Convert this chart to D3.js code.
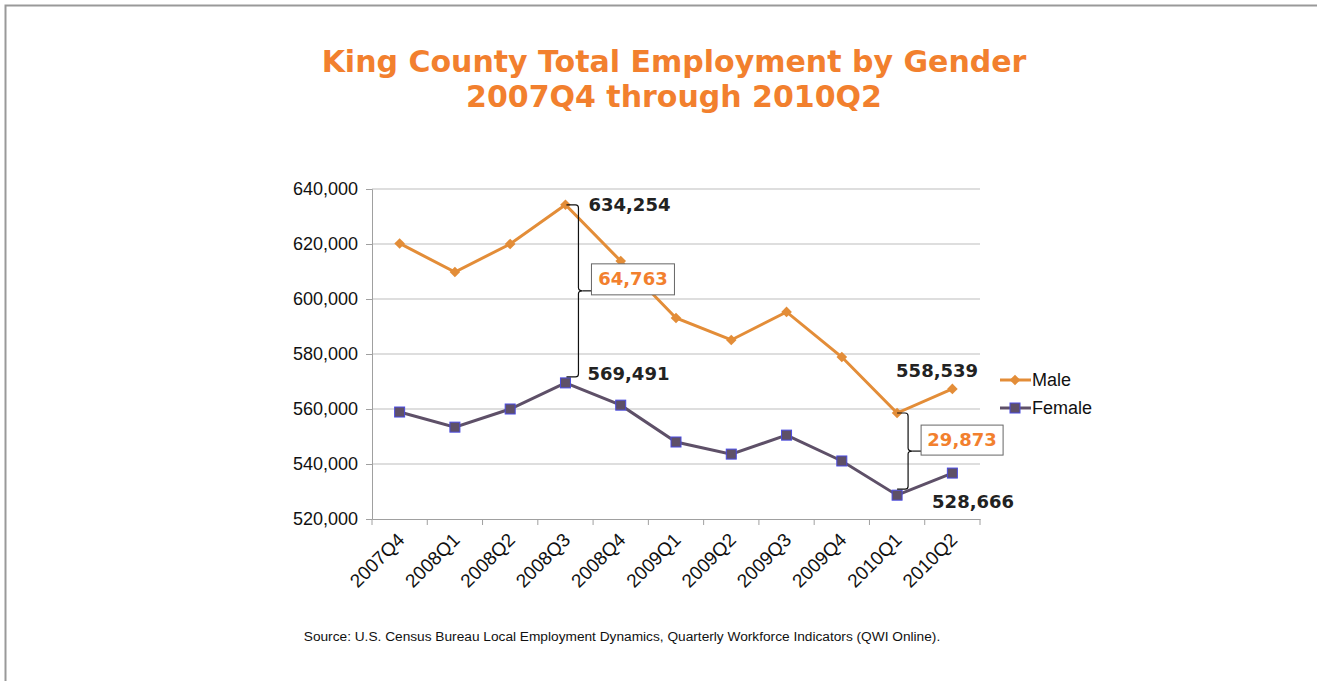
<!DOCTYPE html>
<html>
<head>
<meta charset="utf-8">
<script src="https://cdn.jsdelivr.net/npm/d3@7"></script>
<style>
  body { margin: 0; background: #fff; }
  svg { display: block; }
</style>
</head>
<body>
<div class="chart"></div>
<script>
const quarters = ['2007Q4', '2008Q1', '2008Q2', '2008Q3', '2008Q4', '2009Q1', '2009Q2', '2009Q3', '2009Q4', '2010Q1', '2010Q2'];
const male = [620200, 609800, 620000, 634254, 613800, 593100, 585100, 595300, 578900, 558539, 567300];
const female = [558900, 553400, 560000, 569491, 561400, 548000, 543600, 550500, 541100, 528666, 536700];
const yTicks = [520000, 540000, 560000, 580000, 600000, 620000, 640000];

const W = 1318, H = 681;
const margin = {top: 189, left: 372, right: 338, bottom: 162};
const width = W - margin.left - margin.right;
const height = H - margin.top - margin.bottom;

const maleColor = '#E38D38';
const femaleColor = '#5E5068';
const orange = '#F2802E';

const svg = d3.select('.chart').append('svg')
    .attr('width', W)
    .attr('height', H);

// frame
svg.append('path')
    .attr('d', 'M5.5,' + H + 'V5.5H1317')
    .attr('fill', 'none')
    .attr('stroke', '#999')
    .attr('stroke-width', 2);

// title
const title = svg.append('text')
    .attr('text-anchor', 'middle')
    .attr('font-family', 'DejaVu Sans, Verdana, sans-serif')
    .attr('font-weight', 'bold')
    .attr('font-size', 30)
    .attr('fill', orange);
title.append('tspan').attr('x', 674).attr('y', 72).text('King County Total Employment by Gender');
title.append('tspan').attr('x', 674).attr('y', 107).text('2007Q4 through 2010Q2');

const g = svg.append('g')
    .attr('transform', 'translate(' + margin.left + ',' + margin.top + ')');

const x = d3.scaleBand().domain(quarters).range([0, width]);
const y = d3.scaleLinear().domain([520000, 640000]).range([height, 0]);
const cx = d => x(d) + x.bandwidth() / 2;

// gridlines
g.append('g').selectAll('line')
    .data(yTicks.slice(1))
    .join('line')
    .attr('x1', 0).attr('x2', width)
    .attr('y1', d => y(d)).attr('y2', d => y(d))
    .attr('stroke', '#BDBDBD');

// y axis
const yAxis = g.append('g')
    .call(d3.axisLeft(y).tickValues(yTicks).tickSize(6).tickPadding(8).tickFormat(d3.format(',')));
yAxis.select('.domain').attr('stroke', '#A0A0A0');
yAxis.selectAll('.tick line').attr('stroke', '#A0A0A0');
yAxis.selectAll('text')
    .attr('font-family', 'Liberation Sans, Arial, sans-serif')
    .attr('font-size', 18)
    .attr('fill', '#111');

// x axis
const xAxis = g.append('g')
    .attr('transform', 'translate(0,' + height + ')')
    .call(d3.axisBottom(x).tickSize(0).tickPadding(0));
xAxis.select('.domain').attr('stroke', '#A0A0A0');
xAxis.selectAll('.tick line').remove();
xAxis.append('g').selectAll('line')
    .data(quarters.concat(['end']))
    .join('line')
    .attr('x1', (d, i) => i * x.step()).attr('x2', (d, i) => i * x.step())
    .attr('y1', 0).attr('y2', 6)
    .attr('stroke', '#A0A0A0');
xAxis.selectAll('.tick text')
    .attr('font-family', 'Liberation Sans, Arial, sans-serif')
    .attr('font-size', 19)
    .attr('fill', '#111')
    .attr('text-anchor', 'end')
    .attr('dy', null)
    .attr('transform', 'translate(6,22) rotate(-45)');

// lines
const line = d3.line()
    .x((d, i) => cx(quarters[i]))
    .y(d => y(d));

g.append('path').datum(male)
    .attr('d', line)
    .attr('fill', 'none')
    .attr('stroke', maleColor)
    .attr('stroke-width', 3);
g.append('path').datum(female)
    .attr('d', line)
    .attr('fill', 'none')
    .attr('stroke', femaleColor)
    .attr('stroke-width', 3);

// markers
const diamond = d3.symbol().type(d3.symbolDiamond2).size(72);
g.append('g').selectAll('path')
    .data(male)
    .join('path')
    .attr('d', diamond)
    .attr('transform', (d, i) => 'translate(' + cx(quarters[i]) + ',' + y(d) + ')')
    .attr('fill', maleColor);
g.append('g').selectAll('rect')
    .data(female)
    .join('rect')
    .attr('x', (d, i) => cx(quarters[i]) - 5)
    .attr('y', d => y(d) - 5)
    .attr('width', 10).attr('height', 10)
    .attr('fill', femaleColor)
    .attr('stroke', '#4A4AE0')
    .attr('stroke-width', 1);

// value labels
const labelFont = 'DejaVu Sans, Verdana, sans-serif';
const valueLabel = (txt, lx, ly, color) => g.append('text')
    .attr('x', lx).attr('y', ly)
    .attr('font-family', labelFont)
    .attr('font-weight', 'bold')
    .attr('font-size', 18)
    .attr('fill', color || '#222')
    .text(txt);

const fmt = d3.format(',');

// bracket between two values
function bracket(i, hookLeft, bx, boxW, boxH, label) {
    const xb = cx(quarters[i]) + bx;
    const y1 = y(male[i]), y2 = y(female[i]) - 6;
    const ym = (y1 + y2) / 2;
    const x0 = cx(quarters[i]) + hookLeft;
    g.append('path')
        .attr('d', 'M' + x0 + ',' + y1 + 'H' + (xb - 3) + 'Q' + xb + ',' + y1 + ' ' + xb + ',' + (y1 + 3) +
            'V' + (ym - 3) + 'Q' + xb + ',' + ym + ' ' + (xb + 4) + ',' + ym +
            'Q' + xb + ',' + ym + ' ' + xb + ',' + (ym + 3) +
            'V' + (y2 - 3) + 'Q' + xb + ',' + y2 + ' ' + (xb - 3) + ',' + y2 + 'H' + x0)
        .attr('fill', 'none')
        .attr('stroke', '#111')
        .attr('stroke-width', 1.2);
    const bx0 = xb + 13;
    g.append('line')
        .attr('x1', xb + 4).attr('x2', bx0)
        .attr('y1', ym).attr('y2', ym)
        .attr('stroke', '#111').attr('stroke-width', 1.2);
    g.append('rect')
        .attr('x', bx0).attr('y', ym - boxH + 4)
        .attr('width', boxW).attr('height', boxH)
        .attr('fill', '#fff')
        .attr('stroke', '#666');
    g.append('text')
        .attr('x', bx0 + boxW / 2).attr('y', ym - boxH / 2 + 10)
        .attr('text-anchor', 'middle')
        .attr('font-family', labelFont)
        .attr('font-weight', 'bold')
        .attr('font-size', 18)
        .attr('fill', orange)
        .text(label);
}

bracket(3, 1, 13, 83, 31, fmt(male[3] - female[3]));
bracket(9, 0, 11, 82, 30, fmt(male[9] - female[9]));

valueLabel(fmt(male[3]), cx(quarters[3]) + 23, y(male[3]) + 6);
valueLabel(fmt(female[3]), cx(quarters[3]) + 22, y(female[3]) - 3);
valueLabel(fmt(male[9]), cx(quarters[9]) - 1, y(male[9]) - 36);
valueLabel(fmt(female[9]), cx(quarters[9]) + 35, y(female[9]) + 13);

// legend
const legend = svg.append('g').attr('transform', 'translate(1000,380)');
const series = [{name: 'Male', color: maleColor}, {name: 'Female', color: femaleColor}];
series.forEach((s, i) => {
    const lg = legend.append('g').attr('transform', 'translate(0,' + i * 28 + ')');
    lg.append('line').attr('x1', 0).attr('x2', 31).attr('stroke', s.color).attr('stroke-width', 3);
    if (i === 0) {
        lg.append('path').attr('d', diamond).attr('transform', 'translate(15,0)').attr('fill', s.color);
    } else {
        lg.append('rect').attr('x', 10).attr('y', -5).attr('width', 10).attr('height', 10)
            .attr('fill', s.color).attr('stroke', '#4A4AE0');
    }
    lg.append('text')
        .attr('x', 32).attr('y', 6)
        .attr('font-family', 'Liberation Sans, Arial, sans-serif')
        .attr('font-size', 18)
        .attr('fill', '#111')
        .text(s.name);
});

// source
svg.append('text')
    .attr('x', 622).attr('y', 641)
    .attr('text-anchor', 'middle')
    .attr('font-family', 'Liberation Sans, Arial, sans-serif')
    .attr('font-size', 13.7)
    .attr('fill', '#111')
    .text('Source: U.S. Census Bureau Local Employment Dynamics, Quarterly Workforce Indicators (QWI Online).');
</script>
</body>
</html>
